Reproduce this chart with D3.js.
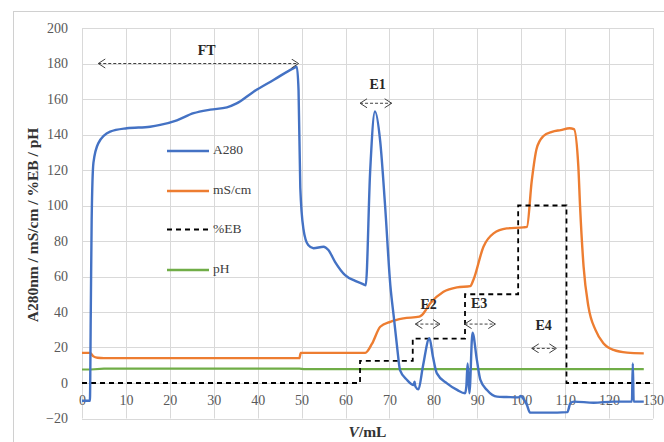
<!DOCTYPE html>
<html>
<head>
<meta charset="utf-8">
<script src="https://cdn.jsdelivr.net/npm/d3@7"></script>
<style>
  body { margin: 0; background: #fff; }
  text { font-family: "Liberation Serif", "DejaVu Serif", serif; }
</style>
</head>
<body>
<svg id="chart" width="664" height="442"></svg>
<script>
// ---- data ----
let xTickLabels = [0, 10, 20, 30, 40, 50, 60, 70, 80, 90, 100, 110, 120, 130];
let yTickLabels = [-20, 0, 20, 40, 60, 80, 100, 120, 140, 160, 180, 200];

// A280 (blue)
let a280Vol = [0, 1.8, 2.0, 2.2, 2.6, 3.7, 6.4, 10.2, 15.5, 17.8, 21.6, 25.4, 29.2, 33, 35.2, 39, 43.6, 48.1, 48.9, 49.3,
  49.7, 50.4, 51.5, 52.7, 55, 56.1, 57.6, 59.9, 62.2, 64.1, 64.6, 65.6, 66.7, 67.9, 69, 70.2, 71, 71.8, 72.4, 74,
  75.5, 75.7, 75.9, 76.6, 77.6, 79.1, 79.9, 80.8, 83.1, 85.4, 87.2, 87.5, 87.8, 88.2, 88.9, 89.9, 90.7, 92.2, 94.5, 96.7,
  99.4, 99.9, 100.4, 101.3, 102, 105.9, 110.5, 111.2, 112, 116.5, 121, 125.2, 125.4, 125.6, 127.9];
let a280Val = [-10, -10, 40, 92, 124, 135, 141.6, 143.5, 144.4, 145.4, 148, 152, 154, 155.3, 157.5, 164, 170.7, 177.3, 178.2, 165,
  110, 87, 77.7, 75.9, 76.8, 74.9, 68.3, 60.8, 57.5, 55.6, 55, 119, 153, 136, 100, 55, 37, 19, 7.3, 1.7,
  -1.1, 0.7, -2, -3.6, 9.2, 25.2, 14.8, 5.4, -0.2, -3.9, -5.8, -2, 11, -5.8, 28.4, 13, 1.7, -3.9, -7.7, -7.9,
  -8.1, -7.3, -8.6, -12.4, -16.7, -16.7, -16.4, -11.4, -10.5, -11.1, -10.5, -10.5, 11, -10.5, -10.5];

// conductivity mS/cm (orange)
let condVol = [0, 1.8, 2.6, 3.5, 5, 49.5, 49.8, 52, 64.5, 66, 67.9, 70.2, 73.2, 76.8, 77.4, 79.3, 82.3, 85.4, 88.4, 89.1,
  91.4, 93.7, 96.7, 100.5, 101.3, 102.4, 103.5, 105, 107, 109, 111, 112, 113, 113.4, 114.2, 115.3, 116.9, 118.7, 121, 124.1, 127.9];
let condVal = [17, 17, 15, 14.2, 14, 14, 17, 17, 17, 22, 31.7, 34.5, 36.4, 37.4, 38.3, 44.9, 51.4, 53.9, 54.6, 58,
  76.8, 84.3, 87.1, 87.7, 88, 114, 132, 139, 141.5, 142.5, 143.5, 143, 122, 99.3, 65.5, 43, 29.9, 22.4, 18.6, 17.1, 16.7];

// %EB gradient steps (black dashed)
let ebVol = [0, 63.3, 75.3, 87.2, 99.3, 110.3, 130];
let ebVal = [0, 12.5, 25, 50, 100, 0, 0];

// pH (green)
let phVol = [0, 2, 5, 49.5, 50.5, 127.9];
let phVal = [7.6, 7.6, 8.1, 8.1, 7.8, 7.8];

// fraction annotations
let annoLabels = ["FT", "E1", "E2", "E3", "E4"];
let annoStart = [3.7, 63.3, 75.9, 87.1, 102.4];
let annoEnd = [49.3, 70.5, 81.5, 94.1, 108];
let annoLevel = [180, 157.6, 33.2, 33.2, 19.5];
let annoTextX = [28.4, 67.3, 78.9, 90.4, 105.1];
let annoTextY = [186.6, 167.5, 43.4, 44, 31.7];

let legendNames = ["A280", "mS/cm", "%EB", "pH"];
let seriesColors = ["#4472C4", "#ED7D31", "#000000", "#70AD47"];

// ---- layout ----
let plotLeft = 82, plotRight = 653, plotTop = 28, plotBottom = 418.5;
let svg = d3.select("#chart");

let xScale = d3.scaleLinear().domain([0, 130]).range([plotLeft, plotRight]);
let yScale = d3.scaleLinear().domain([-20, 200]).range([plotBottom, plotTop]);

// outer frame of the chart area
svg.append("rect")
  .attr("x", 13.5).attr("y", 11.5)
  .attr("width", 700).attr("height", 500)
  .attr("fill", "none").attr("stroke", "#d0d0d0");

// gridlines
let grid = svg.append("g").attr("stroke", "#d9d9d9").attr("stroke-width", 1);
grid.selectAll(".gx").data(xTickLabels).join("line")
  .attr("x1", d => Math.round(xScale(d)) + 0.5).attr("x2", d => Math.round(xScale(d)) + 0.5)
  .attr("y1", yScale(200)).attr("y2", yScale(-20));
grid.selectAll(".gy").data(yTickLabels).join("line")
  .attr("x1", xScale(0)).attr("x2", xScale(130))
  .attr("y1", d => Math.round(yScale(d)) + 0.5).attr("y2", d => Math.round(yScale(d)) + 0.5);

// axes (labels only, Excel style)
let yAxis = d3.axisLeft(yScale).tickValues(yTickLabels).tickSize(0).tickPadding(14);
svg.append("g").attr("transform", "translate(" + plotLeft + ",0)").call(yAxis)
  .call(g => g.select(".domain").remove())
  .selectAll("text").attr("font-size", 14).attr("fill", "#595959")
  .style("font-family", "'Liberation Serif', serif");

let xAxis = d3.axisBottom(xScale).tickValues(xTickLabels).tickSize(0).tickPadding(12);
svg.append("g").attr("transform", "translate(0," + yScale(0) + ")").call(xAxis)
  .call(g => g.select(".domain").remove())
  .selectAll("text").attr("font-size", 14).attr("fill", "#595959")
  .style("font-family", "'Liberation Serif', serif");

// axis titles
svg.append("text")
  .attr("transform", "translate(34,225) rotate(-90)")
  .attr("text-anchor", "middle").attr("dominant-baseline", "middle")
  .attr("font-size", 15.5).attr("font-weight", "bold").attr("fill", "#333")
  .text("A280nm / mS/cm / %EB / pH");

let xTitle = svg.append("text")
  .attr("x", (plotLeft + plotRight) / 2).attr("y", 437)
  .attr("text-anchor", "middle")
  .attr("font-size", 15.5).attr("font-weight", "bold").attr("fill", "#333");
xTitle.append("tspan").attr("font-style", "italic").text("V");
xTitle.append("tspan").text("/mL");

// series
function zip(xs, ys) { return xs.map((x, i) => [x, ys[i]]); }

let smoothLine = d3.line().x(d => xScale(d[0])).y(d => yScale(d[1])).curve(d3.curveMonotoneX);
let stepLine = d3.line().x(d => xScale(d[0])).y(d => yScale(d[1])).curve(d3.curveStepAfter);
let flatLine = d3.line().x(d => xScale(d[0])).y(d => yScale(d[1]));

svg.append("path").datum(zip(phVol, phVal)).attr("d", flatLine)
  .attr("fill", "none").attr("stroke", seriesColors[3]).attr("stroke-width", 2.2);
svg.append("path").datum(zip(condVol, condVal)).attr("d", smoothLine)
  .attr("fill", "none").attr("stroke", seriesColors[1]).attr("stroke-width", 2.4);
svg.append("path").datum(zip(ebVol, ebVal)).attr("d", stepLine)
  .attr("fill", "none").attr("stroke", seriesColors[2]).attr("stroke-width", 1.8)
  .attr("stroke-dasharray", "5,4");
svg.append("path").datum(zip(a280Vol, a280Val)).attr("d", smoothLine)
  .attr("fill", "none").attr("stroke", seriesColors[0]).attr("stroke-width", 2.4)
  .attr("stroke-linejoin", "round");

// annotation arrows
let defs = svg.append("defs");
defs.append("marker").attr("id", "chev")
  .attr("markerUnits", "userSpaceOnUse")
  .attr("markerWidth", 12).attr("markerHeight", 12)
  .attr("refX", 8).attr("refY", 5)
  .attr("orient", "auto-start-reverse")
  .append("path").attr("d", "M1,0.5 L8,5 L1,9.5")
  .attr("fill", "none").attr("stroke", "#404040").attr("stroke-width", 1);

let anno = svg.append("g");
anno.selectAll("line").data(annoLabels).join("line")
  .attr("x1", (d, i) => xScale(annoStart[i])).attr("x2", (d, i) => xScale(annoEnd[i]))
  .attr("y1", (d, i) => yScale(annoLevel[i])).attr("y2", (d, i) => yScale(annoLevel[i]))
  .attr("stroke", "#404040").attr("stroke-width", 1).attr("stroke-dasharray", "3,2")
  .attr("marker-start", "url(#chev)").attr("marker-end", "url(#chev)");
anno.selectAll("text").data(annoLabels).join("text")
  .attr("x", (d, i) => xScale(annoTextX[i])).attr("y", (d, i) => yScale(annoTextY[i]))
  .attr("text-anchor", "middle").attr("dominant-baseline", "middle")
  .attr("font-size", 14).attr("font-weight", "bold").attr("fill", "#262626")
  .text(d => d);

// legend
let legend = svg.append("g").attr("transform", "translate(167,151)");
let rows = legend.selectAll("g").data(legendNames).join("g")
  .attr("transform", (d, i) => "translate(0," + [0, 40, 78.5, 119][i] + ")");
rows.append("line").attr("x1", 0).attr("x2", 42).attr("y1", 0).attr("y2", 0)
  .attr("stroke", (d, i) => seriesColors[i])
  .attr("stroke-width", (d, i) => i == 2 ? 1.8 : 2.4)
  .attr("stroke-dasharray", (d, i) => i == 2 ? "5,4" : null);
rows.append("text").attr("x", 46).attr("y", 0).attr("dominant-baseline", "middle")
  .attr("font-size", 13.5).attr("fill", "#404040").text(d => d);
</script>
</body>
</html>
